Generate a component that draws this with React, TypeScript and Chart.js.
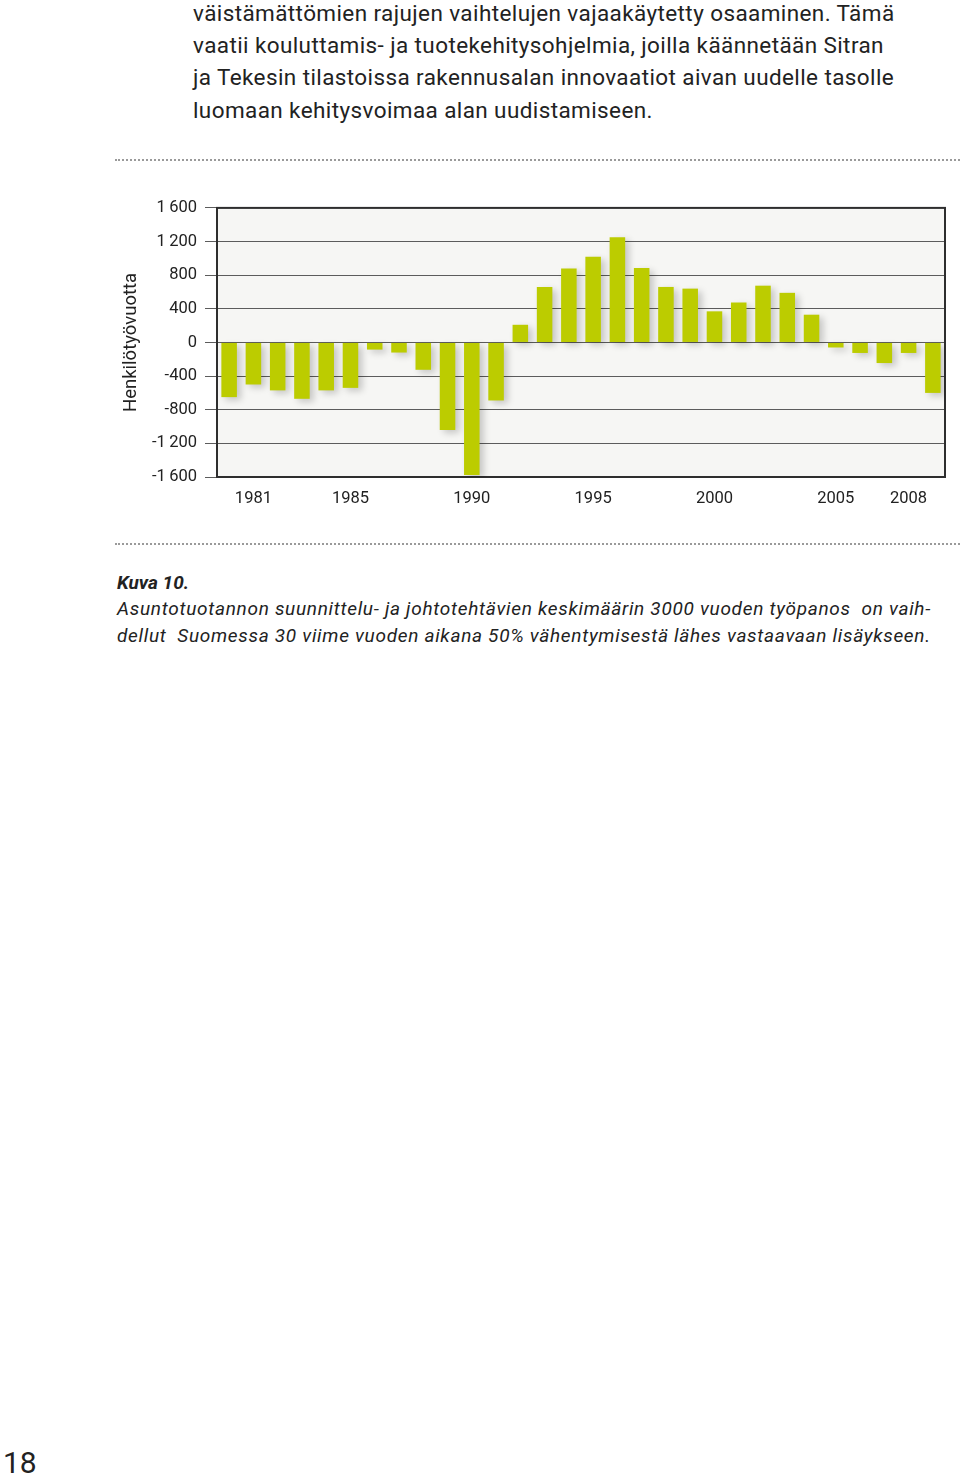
import React, { useEffect, useRef } from "react";
import { Chart, registerables } from "chart.js";

Chart.register(...registerables);

const years = [
  "1980", "1981", "1982", "1983", "1984", "1985", "1986", "1987", "1988", "1989",
  "1990", "1991", "1992", "1993", "1994", "1995", "1996", "1997", "1998", "1999",
  "2000", "2001", "2002", "2003", "2004", "2005", "2006", "2007", "2008", "2009",
];
const values = [
  -650, -500, -570, -670, -570, -540, -85, -120, -325, -1040,
  -1575, -690, 210, 660, 880, 1020, 1250, 885, 660, 640,
  370, 475, 675, 590, 330, -60, -125, -245, -125, -600,
];
const shownYears = ["1981", "1985", "1990", "1995", "2000", "2005", "2008"];
const yTicks = [-1600, -1200, -800, -400, 0, 400, 800, 1200, 1600];
const yTitle = "Henkilötyövuotta";

const bodyLines = [
  "väistämättömien rajujen vaihtelujen vajaakäytetty osaaminen. Tämä",
  "vaatii kouluttamis- ja tuotekehitysohjelmia, joilla käännetään Sitran",
  "ja Tekesin tilastoissa rakennusalan innovaatiot aivan uudelle tasolle",
  "luomaan kehitysvoimaa alan uudistamiseen.",
];
const captionTitle = "Kuva 10.";
const captionLines = [
  "Asuntotuotannon suunnittelu- ja johtotehtävien keskimäärin 3000 vuoden työpanos  on vaih-",
  "dellut  Suomessa 30 viime vuoden aikana 50% vähentymisestä lähes vastaavaan lisäykseen.",
];
const pageNumber = "18";

const FONT = "Roboto, 'Open Sans', 'DejaVu Sans', sans-serif";

function fmt(v: number): string {
  const s = Math.abs(v).toString();
  const body = s.length > 3 ? s.slice(0, s.length - 3) + "\u2009" + s.slice(-3) : s;
  return (v < 0 ? "-" : "") + body;
}

const plotDecor = {
  id: "plotDecor",
  beforeDraw(chart: any) {
    const { ctx, chartArea } = chart;
    ctx.save();
    ctx.fillStyle = "#f6f6f4";
    ctx.fillRect(chartArea.left, chartArea.top, chartArea.right - chartArea.left, chartArea.bottom - chartArea.top);
    ctx.restore();
  },
  beforeDatasetsDraw(chart: any) {
    const { ctx, chartArea } = chart;
    ctx.save();
    ctx.strokeStyle = "#2e2e2e";
    ctx.lineWidth = 2;
    ctx.strokeRect(chartArea.left, chartArea.top, chartArea.right - chartArea.left, chartArea.bottom - chartArea.top);
    ctx.restore();
    ctx.save();
    ctx.shadowColor = "rgba(0,0,0,0.2)";
    ctx.shadowBlur = 7;
    ctx.shadowOffsetX = 4;
    ctx.shadowOffsetY = 3;
  },
  afterDatasetsDraw(chart: any) {
    chart.ctx.restore();
  },
};

function BarChart() {
  const ref = useRef<HTMLCanvasElement | null>(null);
  useEffect(() => {
    if (!ref.current) return;
    const chart = new Chart(ref.current, {
      type: "bar",
      data: {
        labels: years,
        datasets: [
          {
            data: values,
            backgroundColor: "#bccc00",
            borderWidth: 0,
            barPercentage: 0.8,
            categoryPercentage: 0.8,
          },
        ],
      },
      plugins: [plotDecor],
      options: {
        responsive: false,
        animation: false,
        devicePixelRatio: 1,
        layout: { padding: { top: 15, right: 15, left: 0, bottom: 0 } },
        plugins: { legend: { display: false }, tooltip: { enabled: false } },
        scales: {
          x: {
            grid: { display: false },
            border: { display: false },
            ticks: {
              autoSkip: false,
              maxRotation: 0,
              padding: 4,
              color: "#222",
              font: { family: FONT, size: 16.5 },
              callback: function (this: any, val: any, idx: number) {
                const lab = years[idx];
                return shownYears.includes(lab) ? lab : "";
              },
            },
            afterFit: (scale: any) => {
              scale.height = 43;
            },
          },
          y: {
            min: -1600,
            max: 1600,
            afterBuildTicks: (scale: any) => {
              scale.ticks = yTicks.map((v) => ({ value: v }));
            },
            grid: {
              color: "#5c5c5c",
              lineWidth: 1,
              drawTicks: true,
              tickLength: 12,
            },
            border: { display: false },
            ticks: {
              padding: 8,
              color: "#222",
              font: { family: FONT, size: 16.5 },
              callback: (v: any) => fmt(Number(v)),
            },
            title: {
              display: true,
              text: yTitle,
              color: "#222",
              font: { family: FONT, size: 18.5 },
              padding: { top: 10, bottom: 0 },
            },
            afterFit: (scale: any) => {
              scale.width = 107;
            },
          },
        },
      },
    });
    return () => chart.destroy();
  }, []);
  return <canvas ref={ref} width={850} height={330} style={{ position: "absolute", left: 110, top: 190, width: 850, height: 330 }} />;
}

export default function App() {
  return (
    <div style={{ position: "absolute", left: 0, top: 0, width: 960, height: 1482, background: "#fff", fontFamily: FONT, color: "#222", overflow: "hidden" }}>
      {bodyLines.map((l, i) => (
        <div key={i} style={{ position: "absolute", left: 193, top: -3.5 + i * 32.4, fontSize: 22.5, letterSpacing: "0.4px", lineHeight: "32px", whiteSpace: "pre" }}>
          {l}
        </div>
      ))}
      <div style={{ position: "absolute", left: 115, top: 159, width: 845, borderTop: "2px dotted #9a9a9a" }} />
      <BarChart />
      <div style={{ position: "absolute", left: 115, top: 543, width: 845, borderTop: "2px dotted #9a9a9a" }} />
      <div style={{ position: "absolute", left: 117, top: 570, fontSize: 19, fontWeight: "bold", fontStyle: "italic", lineHeight: "26px", whiteSpace: "pre" }}>
        {captionTitle}
      </div>
      {captionLines.map((l, i) => (
        <div key={i} style={{ position: "absolute", left: 117, top: 596 + i * 26.5, fontSize: 19, fontStyle: "italic", letterSpacing: "0.7px", lineHeight: "26px", whiteSpace: "pre" }}>
          {l}
        </div>
      ))}
      <div style={{ position: "absolute", left: 3, top: 1450, fontSize: 30, lineHeight: "26px" }}>{pageNumber}</div>
    </div>
  );
}
